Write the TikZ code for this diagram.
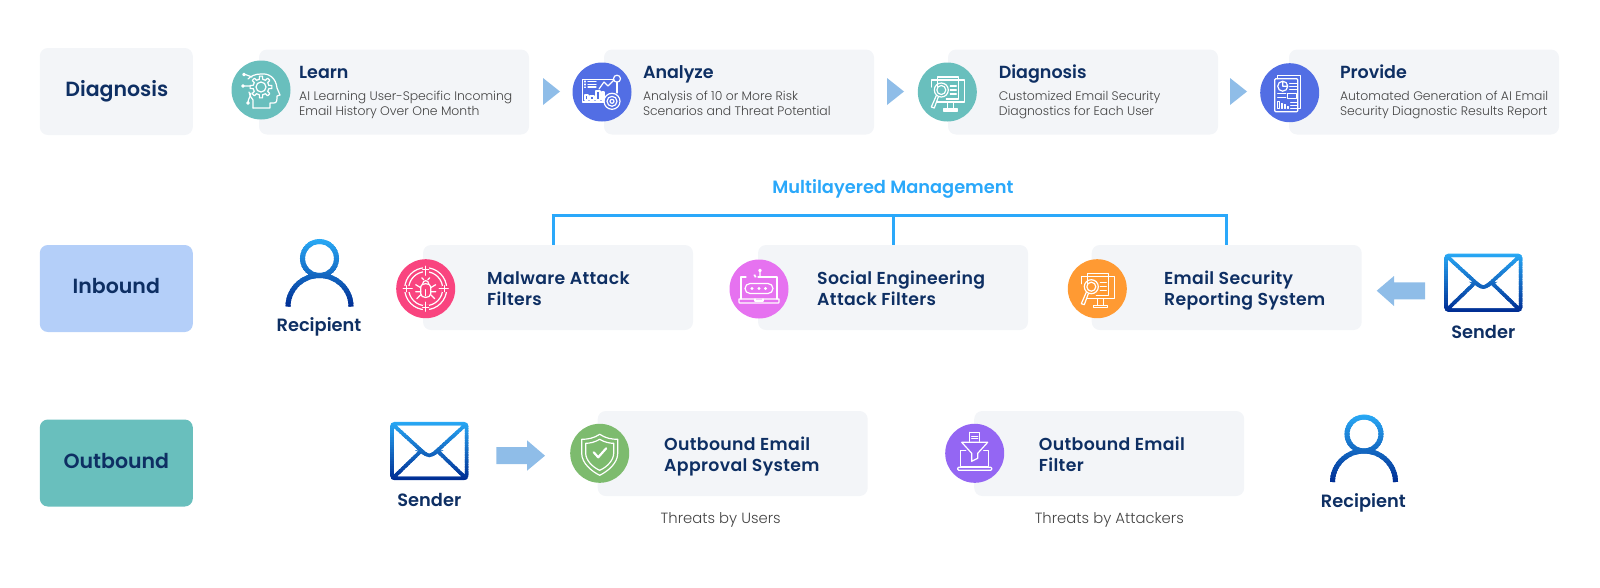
\documentclass[tikz,border=0pt]{standalone}
\usepackage{fontspec}
\setmainfont{Poppins}
\newfontfamily\semi{Poppins SemiBold}
\newfontfamily\semiw[LetterSpace=2]{Poppins SemiBold}
\newfontfamily\lite{Poppins Light}
\definecolor{bxg}{HTML}{F3F5F8}
\definecolor{navy}{HTML}{0E2F63}
\definecolor{inb}{HTML}{B4CFF9}
\definecolor{teal2}{HTML}{69BFBD}
\definecolor{blu}{HTML}{526EE4}
\definecolor{pnk}{HTML}{F9447F}
\definecolor{mgn}{HTML}{E672F0}
\definecolor{org}{HTML}{FF9A33}
\definecolor{grn}{HTML}{7DBB6E}
\definecolor{pur}{HTML}{9466F3}
\definecolor{arw}{HTML}{8FBDE8}
\definecolor{brk}{HTML}{2AA8FA}
\definecolor{gry}{HTML}{444444}
\definecolor{gradtop}{HTML}{29A9F5}
\definecolor{gradbot}{HTML}{002E94}
\newcommand\gradpath{}
\newcommand\gradstroke[3]{%
  \foreach \i [evaluate=\i as \p using {100-\i*100/24},
               evaluate=\i as \ya using {#1+\i*(#2-#1)/25},
               evaluate=\i as \yb using {#1+(\i+1.3)*(#2-#1)/25}] in {0,...,24}{%
    \begin{scope}
      \clip (-60,\ya) rectangle (60,\yb);
      \draw[color=gradtop!\p!gradbot,line width=#3] \gradpath;
    \end{scope}}}
\tikzset{
  bx/.style={rectangle,fill=bxg,rounded corners=8pt,minimum width=270pt,minimum height=85pt,inner sep=0pt},
  lab/.style={rectangle,rounded corners=8pt,minimum width=153pt,minimum height=87pt,inner sep=0pt},
  labt/.style={inner sep=0pt,text=navy,font=\semi\fontsize{20.5}{24}\selectfont},
  disc/.style={circle,minimum size=59pt,inner sep=0pt},
  head/.style={anchor=base west,inner sep=0pt,text=navy,font=\semi\fontsize{17.5}{21}\selectfont},
  sub/.style={anchor=base west,inner sep=0pt,text=gry,font=\lite\fontsize{12.4}{15}\selectfont},
  big/.style={anchor=base west,inner sep=0pt,text=navy,font=\semiw\fontsize{17.3}{21}\selectfont},
  who/.style={inner sep=0pt,text=navy,font=\semi\fontsize{17.8}{21}\selectfont},
  note/.style={inner sep=0pt,text=gry,font=\lite\fontsize{14.8}{18}\selectfont},
  ic/.style={draw=white,line width=1.2pt,line cap=round,line join=round},
  tri/.style={fill=arw,draw=none},
  brkt/.style={draw=brk,line width=3pt},
  pics/headicon/.style={code={
    \draw[ic] (-8,18) -- (9,18) -- (9,13) -- (13,13) .. controls (16,13) and (16,10) .. (16,6) -- (19,5) -- (16,-2)
       .. controls (15,-12) and (8,-17) .. (0,-16) .. controls (-6,-16) and (-10,-14) .. (-13,-11);
    \draw[ic] (-8,18) -- (-8,10) .. controls (-10,7) and (-12,5) .. (-12,2);
    \begin{scope}[shift={(0,-3)}]
      \draw[ic] (0,0) circle (5);
      \foreach \a in {0,45,...,315}{
        \draw[ic] (\a-12:8) -- (\a-8:11) -- (\a+8:11) -- (\a+12:8) -- (\a+33:8);}
    \end{scope}
    \draw[ic] (-17,-15.5) circle (1.3) (-15.7,-15.5) -- (-9,-13);
    \draw[ic] (-18,-4) circle (1.3) (-16.7,-4) -- (-11,-4);
    \draw[ic] (-13,13) circle (1.3) (-13,11.7) .. controls (-12,7) and (-10,6) .. (-10,3);
  }},
  pics/dashicon/.style={code={
    \draw[ic] (11.5,-12.7) -- (-19.3,-12.7) -- (-19.3,10) -- (2,10);
    \draw[ic] (15,-9.7) -- (15,1);
    \draw[ic] (15,-13.3) circle (3.5);
    \draw[ic] (10,9.3) circle (8) (10,9.3) circle (5) (10,9.3) circle (2);
    \draw[ic] (-17,-11) -- (-17,-10) (-14,-10.7) -- (-6,-10.7) (-17,-8) -- (-17,-7) (-14,-7.7) -- (-6,-7.7) (-17,-5) -- (-17,-4.5) (-14,-5) -- (-6,-5);
    \draw[ic] (-17,8) rectangle (-14,3) (-12,8) rectangle (-8,4) (-6,8) rectangle (-2,-1) (0,8) rectangle (2,0);
    \draw[ic] (-3,-3) -- (2,-10) -- (6,-6) -- (12,-12);
  }},
  pics/scanicon/.style={code={
    \draw[ic] (-10,-12) -- (-16,-12) -- (-16,-5) (-10,10) -- (17,10) -- (17,-12) -- (11,-12);
    \draw[ic] (-10,-5) -- (-10,-15) -- (11,-15) -- (11,7) -- (-1,7);
    \draw[ic] (-10,-12) -- (11,-12);
    \draw[ic] (-6,-2) circle (7) (-6,-2) circle (4.5);
    \draw[ic] (-11,3.5) -- (-16,15) -- (-13,16) -- (-9,5);
    \draw[ic] (3,-6) -- (9,-6) (3,-2) -- (9,-2) (3,2) -- (9,2);
    \draw[ic] (0,10) -- (0,16) (6,10) -- (6,16) (-4,17) -- (10,17) -- (10,19) -- (-4,19) -- cycle;
  }},
  pics/reporticon/.style={code={
    \draw[ic,rounded corners=1pt] (-15,-14) rectangle (8,19);
    \draw[ic] (-12,-14) -- (-12,-17) -- (11,-17) -- (11,16) -- (8,16);
    \draw[ic] (-7,-6.5) circle (5) (-7,-6.5) -- (-7,-11.5) (-7,-6.5) -- (-2,-6.5);
    \draw[ic] (0,-9) -- (7,-9) (0,-6) -- (7,-6) (0,-3) -- (7,-3);
    \draw[ic] (-12,1) -- (-4,1) (-12,4.5) -- (-4,4.5);
    \draw[ic] (-2,1) rectangle (7,6);
    \draw[ic] (-12,16) rectangle (-10.5,9) (-8.5,16) rectangle (-7,10.5) (-5.5,16) rectangle (-4,12) (-2.5,16) rectangle (-1,13.5);
    \draw[ic] (1,10) -- (7,10) (1,13) -- (7,13) (1,16) -- (7,16);
  }},
  pics/bugicon/.style={code={
    \draw[ic] (0,0) circle (21) (0,0) circle (17);
    \foreach \a in {0,90,180,270}{
      \fill[color=pnk,rotate=\a] (-3,-24) rectangle (3,-16);
      \draw[ic,rotate=\a] (0,-22.5) -- (0,-13.5) (-3,-19) -- (3,-19);}
    \draw[ic] (-5,-2) .. controls (-5,-6) and (5,-6) .. (5,-2) -- (5,5) .. controls (5,10) and (-5,10) .. (-5,5) -- cycle;
    \draw[ic] (0,1) -- (0,7);
    \draw[ic] (-3,-5) .. controls (-3,-9) and (3,-9) .. (3,-5);
    \draw[ic] (-5,-1) -- (-10,-4) (5,-1) -- (10,-4) (-5,3) -- (-10,3) (5,3) -- (10,3) (-5,6) -- (-9,10) (5,6) -- (9,10) (-2,-9) -- (-4,-11) (2,-9) -- (4,-11);
  }},
  pics/lockicon/.style={code={
    \draw[ic] (-13,-12) -- (-18,-12) -- (-18,10) (18,10) -- (18,-12) -- (-1,-12);
    \draw[ic] (-20,10) -- (20,10) -- (20,13) .. controls (20,14) .. (18,14) -- (-18,14) .. controls (-20,14) .. (-20,13) -- cycle;
    \draw[ic] (-4,10) -- (-4,12) -- (4,12) -- (4,10);
    \draw[ic,rounded corners=5pt] (-14,-5.5) rectangle (14,4.5);
    \fill[white] (-7,-.5) circle (1.7) (0,-.5) circle (1.7) (6.5,-.5) circle (1.7);
    \draw[ic] (1,-18.5) circle (1.3) (1,-17) -- (1,-12);
    \draw[ic] (-4,-14) -- (-4,-12) (-5,-14) -- (-3,-12);
  }},
  pics/shieldicon/.style={code={
    \draw[ic] (0,-19) .. controls (-6,-15) and (-12,-14) .. (-18,-14) -- (-18,0) .. controls (-18,10) and (-8,18) .. (0,22);
    \draw[ic] (0,-19) .. controls (6,-15) and (12,-14) .. (18,-14) -- (18,0) .. controls (18,10) and (8,18) .. (0,22);
    \draw[ic] (0,-14) .. controls (-5,-11) and (-10,-10) .. (-14,-10) -- (-14,0) .. controls (-14,7) and (-7,14) .. (0,17);
    \draw[ic] (0,-14) .. controls (5,-11) and (10,-10) .. (14,-10) -- (14,0) .. controls (14,7) and (7,14) .. (0,17);
    \draw[ic,line width=2.2pt] (-6,-1) -- (-1.5,4) -- (6.5,-5);
  }},
  pics/funnelicon/.style={code={
    \draw[ic] (-5,-21) -- (5,-21) -- (5,-12) (-5,-21) -- (-5,-12) (-3,-17) -- (3,-17) (-3,-14.5) -- (3,-14.5);
    \draw[ic] (-13,-11) -- (13,-11) -- (3,0) -- (3,5) -- (-3,8) -- (-3,0) -- cycle;
    \draw[ic] (-9,-3) -- (-14,-3) -- (-14,13) -- (14,13) -- (14,-3) -- (9,-3);
    \draw[ic,rounded corners=1pt] (-17,14) rectangle (17,17);
  }},
  pics/personicon/.style={code={
    \renewcommand\gradpath{(0,0) circle (17) (-31.5,48) arc (180:360:31.5 and 31)}
    \gradstroke{-20}{50}{5pt}
  }},
  pics/mailicon/.style={code={
    \renewcommand\gradpath{[rounded corners=3pt] (-37.3,-27.4) rectangle (37.3,27.4)
      (-36.7,-26.7) -- (-5,2.3) -- (0,5.2) -- (5,2.3) -- (36.7,-26.7)
      [sharp corners] (-36,26.7) -- (-8.3,0) (36,26.7) -- (8.3,0)}
    \gradstroke{-30}{30}{3.6pt}
  }},
}
\begin{document}
\begin{tikzpicture}[x=1pt,y=-1pt]
\useasboundingbox (0,0) rectangle (1600,587);
% row labels
\node[lab,fill=bxg] (lDiag) at (116.3,91.5) {};
\node[labt] (xDiag) at (116.8,91) {Diagnosis};
\node[lab,fill=inb] (lIn) at (116.3,288.5) {};
\node[labt] (xIn) at (116.3,285.5) {Inbound};
\node[lab,fill=teal2] (lOut) at (116.3,463) {};
\node[labt] (xOut) at (116.3,460.5) {Outbound};
% diagnosis row
\node[bx] (bLearn) at (394,92) {};
\node[bx] (bAnal) at (739,92) {};
\node[bx] (bDiag) at (1083,92) {};
\node[bx] (bProv) at (1424,92) {};
\node[disc,fill=teal2] (cLearn) at (261,90) {};
\node[disc,fill=blu] (cAnal) at (602,92) {};
\node[disc,fill=teal2] (cDiag) at (947.3,92) {};
\node[disc,fill=blu] (cProv) at (1289.7,92.7) {};
\pic at (cLearn.center) {headicon};
\pic at (cAnal.center) {dashicon};
\pic at (cDiag.center) {scanicon};
\pic at (cProv.center) {reporticon};
\node[head] (tLearn) at (299,78) {Learn};
\node[sub] (sLearn1) at (299,100) {AI Learning User-Specific Incoming};
\node[sub] (sLearn2) at (299,115) {Email History Over One Month};
\node[head] (tAnal) at (642.8,78) {Analyze};
\node[sub] (sAnal1) at (642.8,100) {Analysis of 10 or More Risk};
\node[sub] (sAnal2) at (642.8,115) {Scenarios and Threat Potential};
\node[head] (tDiag) at (998.6,78) {Diagnosis};
\node[sub] (sDiag1) at (998.6,100) {Customized Email Security};
\node[sub] (sDiag2) at (998.6,115) {Diagnostics for Each User};
\node[head] (tProv) at (1339.8,78) {Provide};
\node[sub] (sProv1) at (1339.8,100) {Automated Generation of AI Email};
\node[sub] (sProv2) at (1339.8,115) {Security Diagnostic Results Report};
\fill[tri] (543,78) -- (560,91.5) -- (543,105) -- cycle;
\fill[tri] (887,78) -- (904,91.5) -- (887,105) -- cycle;
\fill[tri] (1230,78) -- (1247,91.5) -- (1230,105) -- cycle;
% inbound row
\node[text=brk,inner sep=0pt,font=\semi\fontsize{17.8}{21}\selectfont] (mm) at (893,189) {Multilayered Management};
\coordinate (brA) at (553,215);
\coordinate (brB) at (893,215);
\coordinate (brC) at (1226.7,215);
\node[bx] (bMal) at (558,287.5) {};
\node[bx] (bSoc) at (893,287.5) {};
\node[bx] (bRep) at (1226.7,287.5) {};
\draw[brkt] ([xshift=-1.5pt]brA) -- ([xshift=1.5pt]brC);
\draw[brkt] (brA) -- (brA |- bMal.north);
\draw[brkt] (brB) -- (brB |- bSoc.north);
\draw[brkt] (brC) -- (brC |- bRep.north);
\node[disc,fill=pnk] (cMal) at (425.7,288.7) {};
\node[disc,fill=mgn] (cSoc) at (759,289) {};
\node[disc,fill=org] (cRep) at (1097.3,288.7) {};
\pic at (cMal.center) {bugicon};
\pic at (cSoc.center) {lockicon};
\pic at (cRep.center) {scanicon};
\node[big] (tMal1) at (487,284) {Malware Attack};
\node[big] (tMal2) at (487,305) {Filters};
\node[big] (tSoc1) at (817,284) {Social Engineering};
\node[big] (tSoc2) at (817,305) {Attack Filters};
\node[big] (tRep1) at (1164,284) {Email Security};
\node[big] (tRep2) at (1164,305) {Reporting System};
\pic at (319.5,258.5) {personicon};
\node[who] (wR1) at (319,327) {Recipient};
\pic at (1483.3,282.7) {mailicon};
\node[who] (wS1) at (1483.3,332) {Sender};
\fill[tri] (1376.7,290.7) -- (1394,276) -- (1394,282.3) -- (1425,282.3) -- (1425,299.3) -- (1394,299.3) -- (1394,306) -- cycle;
% outbound row
\pic at (429.3,451) {mailicon};
\node[who] (wS2) at (429.3,500) {Sender};
\fill[tri] (545,455.7) -- (527,440.3) -- (527,447) -- (496.3,447) -- (496.3,464) -- (527,464) -- (527,470.7) -- cycle;
\node[bx] (bApp) at (732.7,453.5) {};
\node[bx] (bFil) at (1109.2,453.5) {};
\node[disc,fill=grn] (cApp) at (599.7,453.3) {};
\node[disc,fill=pur] (cFil) at (974.7,453.3) {};
\pic at (cApp.center) {shieldicon};
\pic at (cFil.center) {funnelicon};
\node[big] (tApp1) at (664,450) {Outbound Email};
\node[big] (tApp2) at (664,471) {Approval System};
\node[big] (tFil1) at (1038.7,450) {Outbound Email};
\node[big] (tFil2) at (1038.7,471) {Filter};
\node[note] (nU) at (720.7,520) {Threats by Users};
\node[note] (nA) at (1109.3,520) {Threats by Attackers};
\pic at (1364,434) {personicon};
\node[who] (wR2) at (1363.3,503) {Recipient};
\end{tikzpicture}
\end{document}
